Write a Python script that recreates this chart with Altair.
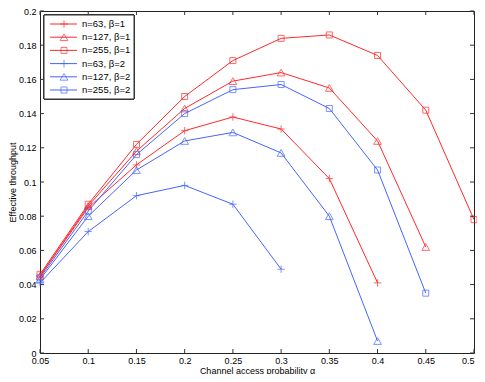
import altair as alt
import pandas as pd

alpha = [0.05, 0.10, 0.15, 0.20, 0.25, 0.30, 0.35, 0.40, 0.45, 0.50]
labels = ["n=63, β=1", "n=127, β=1", "n=255, β=1", "n=63, β=2", "n=127, β=2", "n=255, β=2"]
n63_b1 = [0.045, 0.085, 0.110, 0.130, 0.138, 0.131, 0.102, 0.041]
n127_b1 = [0.045, 0.086, 0.118, 0.143, 0.159, 0.164, 0.155, 0.124, 0.062]
n255_b1 = [0.046, 0.087, 0.122, 0.150, 0.171, 0.184, 0.186, 0.174, 0.142, 0.078]
n63_b2 = [0.041, 0.071, 0.092, 0.098, 0.087, 0.049]
n127_b2 = [0.043, 0.080, 0.107, 0.124, 0.129, 0.117, 0.080, 0.007]
n255_b2 = [0.044, 0.083, 0.116, 0.140, 0.154, 0.157, 0.143, 0.107, 0.035]
series = [n63_b1, n127_b1, n255_b1, n63_b2, n127_b2, n255_b2]
colors = ["#ff2a2a", "#ff2a2a", "#ff2a2a", "#4466ff", "#4466ff", "#4466ff"]
PLUS = "M-1,0L1,0M0,-1L0,1"
shapes = [PLUS, "triangle-up", "square", PLUS, "triangle-up", "square"]
sizes = [55, 60, 36, 55, 60, 36]
x_ticks = [0.05, 0.10, 0.15, 0.20, 0.25, 0.30, 0.35, 0.40, 0.45, 0.50]
y_ticks = [0, 0.02, 0.04, 0.06, 0.08, 0.10, 0.12, 0.14, 0.16, 0.18, 0.20]

W, H = 434, 342

rows = []
for lab, vals, sz in zip(labels, series, sizes):
    for a, v in zip(alpha, vals):
        rows.append({"alpha": a, "thr": v, "series": lab, "sz": sz})
df = pd.DataFrame(rows)

leg = pd.DataFrame({"series": labels, "sz": sizes})

xs = alt.Scale(domain=[0.05, 0.5], nice=False, zero=False)
ys = alt.Scale(domain=[0, 0.2], nice=False, zero=False)
cs = alt.Scale(domain=labels, range=colors)
ss = alt.Scale(domain=labels, range=shapes)

xaxis = alt.Axis(values=x_ticks, format="~g", title="Channel access probability α",
                 labelPadding=3, titlePadding=1, labelFlush=False, labelOverlap=False,
                 labelAlign=alt.ExprRef(expr="datum.value >= 0.49 ? 'right' : 'center'"))
yaxis = alt.Axis(values=y_ticks, format="~g", title="Effective throughput",
                 labelPadding=4, titlePadding=1, labelFlush=False, labelOverlap=False)

base = alt.Chart(df)
lines = base.mark_line(strokeWidth=1).encode(
    x=alt.X("alpha:Q", scale=xs, axis=xaxis),
    y=alt.Y("thr:Q", scale=ys, axis=yaxis),
    color=alt.Color("series:N", scale=cs, legend=None),
    detail="series:N",
)
points = base.mark_point(filled=False, strokeWidth=1).encode(
    x=alt.X("alpha:Q", scale=xs, axis=xaxis),
    y=alt.Y("thr:Q", scale=ys, axis=yaxis),
    color=alt.Color("series:N", scale=cs, legend=None),
    shape=alt.Shape("series:N", scale=ss, legend=None),
    size=alt.Size("sz:Q", scale=None, legend=None),
)

xt = pd.DataFrame({"alpha": x_ticks})
yt = pd.DataFrame({"thr": y_ticks})
tick_style = dict(color="#333333", strokeWidth=1)
xb = alt.Chart(xt).mark_rule(**tick_style).encode(
    x=alt.X("alpha:Q", scale=xs, axis=xaxis), y=alt.value(H), y2=alt.value(H - 4))
xtop = alt.Chart(xt).mark_rule(**tick_style).encode(
    x=alt.X("alpha:Q", scale=xs, axis=xaxis), y=alt.value(0), y2=alt.value(4))
yl = alt.Chart(yt).mark_rule(**tick_style).encode(
    y=alt.Y("thr:Q", scale=ys, axis=yaxis), x=alt.value(0), x2=alt.value(4))
yr = alt.Chart(yt).mark_rule(**tick_style).encode(
    y=alt.Y("thr:Q", scale=ys, axis=yaxis), x=alt.value(W - 4), x2=alt.value(W))

box = alt.Chart(leg).mark_rect(fill="white", stroke="#333333", strokeWidth=1).encode(
    x=alt.value(4), x2=alt.value(94), y=alt.value(4), y2=alt.value(88))

legend_layers = []
for i, lab in enumerate(labels):
    ly = 13 + i * 13.2
    src = alt.Chart(leg).transform_filter(alt.datum.series == lab)
    legend_layers.append(src.mark_rule(strokeWidth=1).encode(
        x=alt.value(10), x2=alt.value(37), y=alt.value(ly),
        color=alt.Color("series:N", scale=cs, legend=None)))
    legend_layers.append(src.mark_point(filled=False, strokeWidth=1).encode(
        x=alt.value(24), y=alt.value(ly),
        color=alt.Color("series:N", scale=cs, legend=None),
        shape=alt.Shape("series:N", scale=ss, legend=None),
        size=alt.Size("sz:Q", scale=None, legend=None)))
    legend_layers.append(src.mark_text(align="left", baseline="middle", font="Liberation Sans",
                                       fontSize=9.5, color="black").encode(
        x=alt.value(42), y=alt.value(ly), text="series:N"))

chart = alt.layer(lines, points, xb, xtop, yl, yr, box, *legend_layers).properties(
    width=W, height=H,
    autosize=alt.AutoSizeParams(type="none"),
    padding={"left": 32, "top": 3, "right": 3, "bottom": 21},
).configure_view(stroke="#222222", strokeWidth=1).configure_axis(
    domain=False, ticks=False, grid=False, labelOverlap=False,
    labelFont="Liberation Sans", labelFontSize=9, labelColor="black",
    titleFont="Liberation Sans", titleFontSize=9, titleFontWeight="normal", titleColor="black",
)

chart.save("out.html", embed_options={"renderer": "svg", "actions": False})
